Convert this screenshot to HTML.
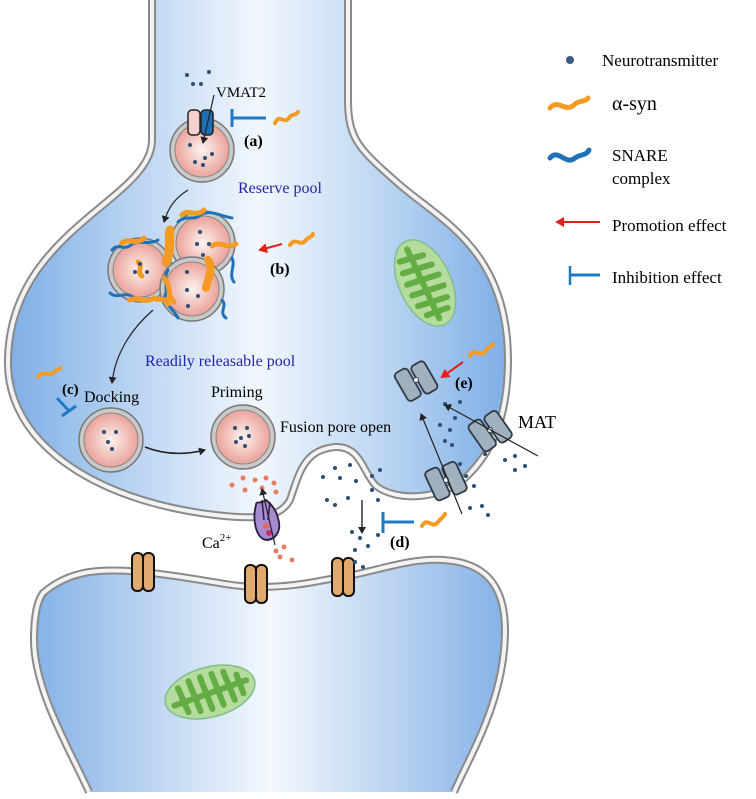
<!DOCTYPE html>
<html><head><meta charset="utf-8"><style>
html,body{margin:0;padding:0;background:#fff;}
svg{display:block;}
text{font-family:"Liberation Serif",serif;}
</style></head><body>
<svg width="756" height="799" viewBox="0 0 756 799" xmlns="http://www.w3.org/2000/svg">
<defs>
<linearGradient id="cell" x1="0" y1="0" x2="1" y2="0">
<stop offset="0" stop-color="#7eaee6"/><stop offset="0.25" stop-color="#b9d4f2"/>
<stop offset="0.5" stop-color="#f2f7fd"/><stop offset="0.75" stop-color="#bcd6f2"/>
<stop offset="1" stop-color="#7eaee6"/></linearGradient>
<linearGradient id="cell2" x1="0" y1="0" x2="1" y2="0">
<stop offset="0" stop-color="#85b2e6"/><stop offset="0.5" stop-color="#f4f8fd"/>
<stop offset="1" stop-color="#85b2e6"/></linearGradient>
<radialGradient id="ves"><stop offset="0" stop-color="#fdf3f0"/><stop offset="1" stop-color="#eaa39a"/></radialGradient>
<marker id="ah" markerWidth="8" markerHeight="8" refX="6" refY="4" orient="auto" markerUnits="userSpaceOnUse"><path d="M0,0 L7,4 L0,8 Z" fill="#222"/></marker>
<marker id="ar" markerWidth="10" markerHeight="10" refX="7" refY="5" orient="auto" markerUnits="userSpaceOnUse"><path d="M0,0 L9,5 L0,10 Z" fill="#e3201c"/></marker>
<g id="vesicle"><circle r="32" fill="#c9c9c9" stroke="#777" stroke-width="1.5"/><circle r="27" fill="url(#ves)" stroke="#888" stroke-width="1"/></g>
<g id="mat"><rect x="-17" y="-16" width="15" height="32" rx="4" fill="#9fb0bf" stroke="#2f3a44" stroke-width="1.8"/><rect x="1" y="-14" width="15" height="32" rx="4" fill="#9fb0bf" stroke="#2f3a44" stroke-width="1.8"/><circle cx="0" cy="0" r="2.5" fill="#fff" stroke="#2f3a44" stroke-width="1"/></g>
<g id="rec"><rect x="-11" y="-19" width="11" height="38" rx="5" fill="#e0a96d" stroke="#111" stroke-width="2"/><rect x="0" y="-19" width="11" height="38" rx="5" fill="#e0a96d" stroke="#111" stroke-width="2"/></g>
</defs>

<!-- presynaptic -->
<path d="M152,-5 L152,140 C152,200 10,230 8,360 C6,440 90,500 215,515 C258,520 280,518 290,500 C300,470 305,450 335,447 C360,446 362,470 375,485 C395,502 440,500 465,478 C490,455 508,420 508,360 C508,250 440,220 400,185 C360,150 348,140 348,100 L348,-5 Z" fill="url(#cell)"/>
<path d="M152,-5 L152,140 C152,200 10,230 8,360 C6,440 90,500 215,515 C258,520 280,518 290,500 C300,470 305,450 335,447 C360,446 362,470 375,485 C395,502 440,500 465,478 C490,455 508,420 508,360 C508,250 440,220 400,185 C360,150 348,140 348,100 L348,-5" fill="none" stroke="#8a8a8a" stroke-width="8"/>
<path d="M152,-5 L152,140 C152,200 10,230 8,360 C6,440 90,500 215,515 C258,520 280,518 290,500 C300,470 305,450 335,447 C360,446 362,470 375,485 C395,502 440,500 465,478 C490,455 508,420 508,360 C508,250 440,220 400,185 C360,150 348,140 348,100 L348,-5" fill="none" stroke="#f3f3f3" stroke-width="4"/>

<!-- postsynaptic -->
<path d="M89,792 C70,750 34,690 34,640 C34,612 38,600 43,593 C70,570 100,568 143,572 C200,578 230,587 257,587 C300,587 320,580 343,577 C380,570 410,558 443,560 C480,562 505,580 505,630 C505,700 470,755 454,792 Z" fill="url(#cell2)"/>
<path d="M89,792 C70,750 34,690 34,640 C34,612 38,600 43,593 C70,570 100,568 143,572 C200,578 230,587 257,587 C300,587 320,580 343,577 C380,570 410,558 443,560 C480,562 505,580 505,630 C505,700 470,755 454,792" fill="none" stroke="#8a8a8a" stroke-width="8"/>
<path d="M89,792 C70,750 34,690 34,640 C34,612 38,600 43,593 C70,570 100,568 143,572 C200,578 230,587 257,587 C300,587 320,580 343,577 C380,570 410,558 443,560 C480,562 505,580 505,630 C505,700 470,755 454,792" fill="none" stroke="#f3f3f3" stroke-width="4"/>
<use href="#rec" x="143" y="572"/><use href="#rec" x="256" y="584"/><use href="#rec" x="343" y="577"/>

<!-- mitochondria -->
<g transform="translate(425,283) rotate(-25)"><ellipse rx="26" ry="46" fill="#b5dc9c" stroke="#7fbf8f" stroke-width="1.5"/><path d="M-2,-38 L-2,38 M-14,-30 L10,-26 M-16,-18 L14,-14 M-17,-6 L16,-2 M-17,6 L16,10 M-16,18 L14,22 M-12,30 L10,32" fill="none" stroke="#63ad44" stroke-width="6" stroke-linecap="round"/></g>
<g transform="translate(210,692) rotate(-15)"><ellipse rx="46" ry="25" fill="#b5dc9c" stroke="#7fbf8f" stroke-width="1.5"/><path d="M-38,4 L38,-2 M-30,-12 L-26,14 M-18,-16 L-14,16 M-6,-17 L-2,17 M6,-17 L10,16 M18,-16 L22,14 M30,-10 L32,10" fill="none" stroke="#63ad44" stroke-width="6" stroke-linecap="round"/></g>

<!-- vesicle a -->
<use href="#vesicle" x="202" y="150"/>
<g fill="#2e4e74"><circle cx="190" cy="145" r="2"/><circle cx="205" cy="158" r="2"/><circle cx="195" cy="162" r="2"/><circle cx="212" cy="154" r="2"/><circle cx="203" cy="165" r="2"/>
<circle cx="187" cy="75" r="2"/><circle cx="209" cy="72" r="2"/><circle cx="193" cy="84" r="2"/><circle cx="201" cy="84" r="2"/></g>
<rect x="188" y="110" width="12" height="25" rx="4" fill="#f6d0cc" stroke="#222" stroke-width="1.5"/>
<rect x="201" y="110" width="12" height="25" rx="4" fill="#1e6fb5" stroke="#222" stroke-width="1.5"/>
<line x1="214" y1="95" x2="203" y2="143" stroke="#222" stroke-width="1.2" marker-end="url(#ah)"/>
<text x="216" y="97" font-size="15">VMAT2</text>
<line x1="232" y1="118" x2="266" y2="118" stroke="#1e7ac4" stroke-width="3"/><line x1="232" y1="109" x2="232" y2="127" stroke="#1e7ac4" stroke-width="3"/>
<path d="M275,123 C280,113 284,125 289,118 C292,113 296,116 298,112" fill="none" stroke="#f59a22" stroke-width="4" stroke-linecap="round"/>
<text x="244" y="146" font-size="16" font-weight="bold">(a)</text>
<text x="238" y="193" font-size="16" fill="#2424a8">Reserve pool</text>
<path d="M188,190 C175,198 168,208 164,222" fill="none" stroke="#222" stroke-width="1.2" marker-end="url(#ah)"/>

<!-- cluster b -->
<use href="#vesicle" x="140" y="270"/><use href="#vesicle" x="203" y="243"/><use href="#vesicle" x="192" y="289"/>
<g fill="none" stroke="#1f72b8" stroke-width="3" stroke-linecap="round">
<path d="M112,250 C118,242 124,252 132,244 C140,240 150,245 158,240"/>
<path d="M110,293 C118,300 126,290 134,298 C142,302 150,296 156,300"/>
<path d="M178,222 C186,214 194,222 202,214 C212,210 220,216 232,218"/>
<path d="M168,270 C162,280 170,288 164,298 C168,308 176,312 178,318"/>
<path d="M222,300 C228,306 218,312 226,318"/>
<path d="M232,258 C236,266 228,274 234,282"/></g>
<g fill="none" stroke="#f59a22" stroke-width="5" stroke-linecap="round">
<path d="M122,243 C128,237 136,246 144,238"/>
<path d="M138,262 C144,266 136,272 142,276"/>
<path d="M130,300 C138,296 146,304 154,298 C160,302 166,296 168,304"/>
<path d="M182,215 C188,208 196,218 204,210"/>
<path d="M212,246 C220,240 228,250 236,244"/>
<path d="M170,230 C168,240 172,250 166,262" stroke-width="9"/>
<path d="M208,260 C214,268 208,278 206,288" stroke-width="8"/>
<path d="M164,278 C172,286 166,296 174,302"/></g>
<g fill="#2e4e74"><circle cx="140" cy="264" r="2"/><circle cx="135" cy="272" r="2"/><circle cx="147" cy="272" r="2"/>
<circle cx="200" cy="232" r="2"/><circle cx="197" cy="244" r="2"/><circle cx="209" cy="244" r="2"/><circle cx="203" cy="255" r="2"/>
<circle cx="187" cy="272" r="2"/><circle cx="187" cy="290" r="2"/><circle cx="198" cy="296" r="2"/><circle cx="188" cy="306" r="2"/></g>
<line x1="282" y1="244" x2="260" y2="250" stroke="#e3201c" stroke-width="2" marker-end="url(#ar)"/>
<path d="M290,245 C296,236 300,248 306,240 C309,236 312,238 313,234" fill="none" stroke="#f59a22" stroke-width="4" stroke-linecap="round"/>
<text x="270" y="274" font-size="16" font-weight="bold">(b)</text>
<path d="M153,310 C130,330 115,355 112,383" fill="none" stroke="#222" stroke-width="1.2" marker-end="url(#ah)"/>
<text x="145" y="366" font-size="16" fill="#2424a8">Readily releasable pool</text>

<!-- c -->
<path d="M38,377 C44,369 48,378 54,372 C57,369 58,371 60,368" fill="none" stroke="#f59a22" stroke-width="4" stroke-linecap="round"/>
<text x="62" y="394" font-size="15" font-weight="bold">(c)</text>
<text x="84" y="402" font-size="16">Docking</text>
<line x1="57" y1="398" x2="70" y2="412" stroke="#1e7ac4" stroke-width="3"/><line x1="62" y1="416" x2="76" y2="406" stroke="#1e7ac4" stroke-width="3"/>
<use href="#vesicle" x="111" y="440"/>
<g fill="#2e4e74"><circle cx="104" cy="432" r="2"/><circle cx="116" cy="432" r="2"/><circle cx="108" cy="442" r="2"/><circle cx="112" cy="449" r="2"/></g>
<text x="211" y="397" font-size="16">Priming</text>
<use href="#vesicle" x="243" y="437"/>
<g fill="#2e4e74"><circle cx="235" cy="428" r="2"/><circle cx="247" cy="428" r="2"/><circle cx="241" cy="438" r="2"/><circle cx="249" cy="436" r="2"/><circle cx="236" cy="442" r="2"/><circle cx="245" cy="446" r="2"/></g>
<path d="M145,447 C165,455 185,455 205,450" fill="none" stroke="#222" stroke-width="1.5" marker-end="url(#ah)"/>
<text x="280" y="432" font-size="16">Fusion pore open</text>

<!-- Ca channel -->
<g fill="#e97a63"><circle cx="232" cy="485" r="2.5"/><circle cx="243" cy="478" r="2.5"/><circle cx="255" cy="480" r="2.5"/><circle cx="266" cy="478" r="2.5"/><circle cx="274" cy="483" r="2.5"/><circle cx="245" cy="490" r="2.5"/><circle cx="262" cy="488" r="2.5"/><circle cx="276" cy="492" r="2.5"/>
<circle cx="276" cy="551" r="2.5"/><circle cx="284" cy="547" r="2.5"/><circle cx="280" cy="557" r="2.5"/><circle cx="292" cy="560" r="2.5"/></g>
<path d="M256,505 C252,520 256,538 266,540 C276,540 282,530 278,518 C276,510 272,505 266,500 C260,505 256,500 256,505 Z" fill="#a78bd0" stroke="#2b1c3b" stroke-width="1.8"/>
<path d="M262,500 L264,520 M270,502 L268,520" stroke="#2b1c3b" stroke-width="1.5"/>
<circle cx="266" cy="526" r="3" fill="#e06b5a"/><circle cx="269" cy="533" r="3" fill="#c2306a"/>
<line x1="275" y1="545" x2="262" y2="489" stroke="#222" stroke-width="1.2" marker-end="url(#ah)"/>
<text x="202" y="548" font-size="16">Ca<tspan dy="-7" font-size="11">2+</tspan></text>

<!-- cleft dots -->
<g fill="#2e4e74"><circle cx="323" cy="477" r="2"/><circle cx="335" cy="468" r="2"/><circle cx="350" cy="465" r="2"/><circle cx="340" cy="478" r="2"/><circle cx="356" cy="481" r="2"/><circle cx="372" cy="476" r="2"/><circle cx="380" cy="470" r="2"/><circle cx="327" cy="500" r="2"/><circle cx="335" cy="505" r="2"/><circle cx="348" cy="498" r="2"/><circle cx="372" cy="490" r="2"/><circle cx="378" cy="500" r="2"/><circle cx="352" cy="532" r="2"/><circle cx="360" cy="538" r="2"/><circle cx="378" cy="535" r="2"/><circle cx="355" cy="550" r="2"/><circle cx="368" cy="546" r="2"/><circle cx="355" cy="562" r="2"/><circle cx="363" cy="567" r="2"/>
<circle cx="452" cy="470" r="2"/><circle cx="460" cy="464" r="2"/><circle cx="466" cy="476" r="2"/><circle cx="474" cy="486" r="2"/><circle cx="482" cy="506" r="2"/><circle cx="488" cy="515" r="2"/><circle cx="470" cy="508" r="2"/><circle cx="485" cy="454" r="2"/><circle cx="505" cy="460" r="2"/><circle cx="515" cy="456" r="2"/><circle cx="515" cy="470" r="2"/><circle cx="525" cy="466" r="2"/>
<circle cx="445" cy="404" r="2"/><circle cx="460" cy="402" r="2"/><circle cx="455" cy="418" r="2"/><circle cx="450" cy="430" r="2"/><circle cx="445" cy="441" r="2"/><circle cx="452" cy="445" r="2"/><circle cx="440" cy="425" r="2"/></g>
<line x1="362" y1="500" x2="362" y2="533" stroke="#222" stroke-width="1.4" marker-end="url(#ah)"/>
<line x1="383" y1="522" x2="414" y2="522" stroke="#1e7ac4" stroke-width="3"/><line x1="383" y1="512" x2="383" y2="533" stroke="#1e7ac4" stroke-width="3"/>
<path d="M422,526 C428,516 432,530 438,522 C441,518 443,518 445,514" fill="none" stroke="#f59a22" stroke-width="4" stroke-linecap="round"/>
<text x="390" y="547" font-size="16" font-weight="bold">(d)</text>

<!-- MAT -->
<g transform="translate(416,380) rotate(-30)"><use href="#mat"/></g>
<g transform="translate(490,430) rotate(-35)"><use href="#mat"/></g>
<g transform="translate(446,480) rotate(-25)"><use href="#mat"/></g>
<line x1="462" y1="514" x2="421" y2="414" stroke="#222" stroke-width="1.2" marker-end="url(#ah)"/>
<line x1="538" y1="456" x2="445" y2="405" stroke="#222" stroke-width="1.2" marker-end="url(#ah)"/>
<text x="518" y="428" font-size="18">MAT</text>
<path d="M470,356 C475,346 480,360 486,350 C489,346 491,348 493,344" fill="none" stroke="#f59a22" stroke-width="4" stroke-linecap="round"/>
<line x1="463" y1="362" x2="442" y2="377" stroke="#e3201c" stroke-width="2" marker-end="url(#ar)"/>
<text x="455" y="388" font-size="16" font-weight="bold">(e)</text>

<!-- legend -->
<circle cx="570" cy="60" r="4" fill="#3a5a7e"/>
<text x="602" y="66" font-size="17">Neurotransmitter</text>
<path d="M550,108 C558,98 566,114 575,104 C580,100 586,102 588,98" fill="none" stroke="#f59a22" stroke-width="5" stroke-linecap="round"/>
<text x="612" y="110" font-size="20">α-syn</text>
<path d="M550,158 C558,148 566,166 575,158 C580,154 586,156 589,150" fill="none" stroke="#1f72b8" stroke-width="5" stroke-linecap="round"/>
<text x="612" y="161" font-size="17">SNARE</text>
<text x="612" y="184" font-size="17">complex</text>
<line x1="600" y1="222" x2="557" y2="222" stroke="#e3201c" stroke-width="2" marker-end="url(#ar)"/>
<text x="612" y="231" font-size="17">Promotion effect</text>
<line x1="570" y1="275" x2="600" y2="275" stroke="#1e7ac4" stroke-width="3"/><line x1="570" y1="266" x2="570" y2="285" stroke="#1e7ac4" stroke-width="2.5"/>
<text x="612" y="283" font-size="17">Inhibition effect</text>
</svg>
</body></html>
